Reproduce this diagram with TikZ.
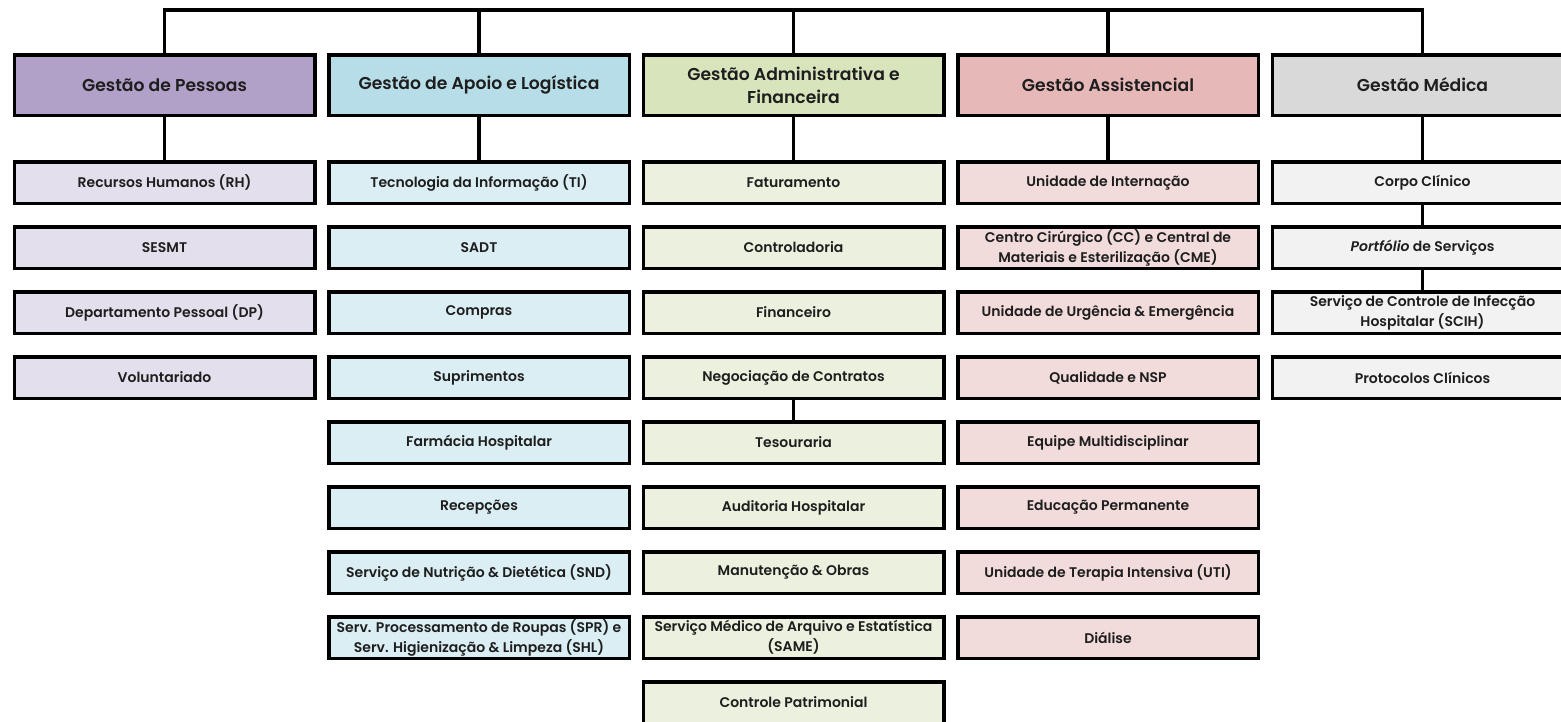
\documentclass[tikz,border=0pt]{standalone}
\usepackage{fontspec}
\setmainfont{Poppins}[BoldFont={Poppins SemiBold}, BoldItalicFont={Poppins SemiBold Italic}]
\usetikzlibrary{positioning}

% tints for the five departments (header / unit)
\definecolor{pesH}{HTML}{B1A0C7}\definecolor{pesS}{HTML}{E4DFEC}
\definecolor{apoH}{HTML}{B7DEE8}\definecolor{apoS}{HTML}{DAEEF3}
\definecolor{admH}{HTML}{D8E4BC}\definecolor{admS}{HTML}{EBF1DE}
\definecolor{assH}{HTML}{E6B8B7}\definecolor{assS}{HTML}{F2DCDB}
\definecolor{medH}{HTML}{D9D9D9}\definecolor{medS}{HTML}{F2F2F2}
\definecolor{ink}{HTML}{1E1E1E}

\tikzset{
  headbox/.style={draw=black, line width=3.5pt, minimum width=300.5pt, minimum height=60.5pt,
    inner sep=0pt, align=center, text=ink, font=\fontsize{17.2}{23}\selectfont\bfseries},
  unitbox/.style={draw=black, line width=3.5pt, minimum width=300.5pt, minimum height=41.5pt,
    inner sep=0pt, align=center, text=ink, font=\fontsize{14}{20}\selectfont\bfseries},
  link/.style={draw=black, line width=3.5pt},
}

\begin{document}
\begin{tikzpicture}[x=1pt, y=-1pt]
\useasboundingbox (0,0) rectangle (1561,721);
\clip (0,0) rectangle (1561,721);

% column centres
\def\ca{164.5}\def\cb{479}\def\cc{793.5}\def\cd{1108}\def\ce{1422.5}

% department headers
\node[headbox, fill=pesH] (hA) at (\ca,85) {Gestão de Pessoas};
\node[headbox, fill=apoH] (hB) at (\cb,85) {Gestão de Apoio e Logística};
\node[headbox, fill=admH] (hC) at (\cc,85) {Gestão Administrativa e\\Financeira};
\node[headbox, fill=assH] (hD) at (\cd,85) {Gestão Assistencial};
\node[headbox, fill=medH] (hE) at (\ce,85) {Gestão Médica};

% Gestão de Pessoas
\node[unitbox, fill=pesS] (a1) at (\ca,182.5) {Recursos Humanos (RH)};
\node[unitbox, fill=pesS] (a2) at (\ca,247.5) {SESMT};
\node[unitbox, fill=pesS] (a3) at (\ca,312.5) {Departamento Pessoal (DP)};
\node[unitbox, fill=pesS] (a4) at (\ca,377.5) {Voluntariado};

% Gestão de Apoio e Logística
\node[unitbox, fill=apoS] (b1) at (\cb,182.5) {Tecnologia da Informação (TI)};
\node[unitbox, fill=apoS] (b2) at (\cb,247.5) {SADT};
\node[unitbox, fill=apoS] (b3) at (\cb,312.5) {Compras};
\node[unitbox, fill=apoS] (b4) at (\cb,377.5) {Suprimentos};
\node[unitbox, fill=apoS] (b5) at (\cb,442.5) {Farmácia Hospitalar};
\node[unitbox, fill=apoS] (b6) at (\cb,507.5) {Recepções};
\node[unitbox, fill=apoS] (b7) at (\cb,572.5) {Serviço de Nutrição \& Dietética (SND)};
\node[unitbox, fill=apoS] (b8) at (\cb,637.5) {Serv. Processamento de Roupas (SPR) e\\Serv. Higienização \& Limpeza (SHL)};

% Gestão Administrativa e Financeira
\node[unitbox, fill=admS] (c1) at (\cc,182.5) {Faturamento};
\node[unitbox, fill=admS] (c2) at (\cc,247.5) {Controladoria};
\node[unitbox, fill=admS] (c3) at (\cc,312.5) {Financeiro};
\node[unitbox, fill=admS] (c4) at (\cc,377.5) {Negociação de Contratos};
\node[unitbox, fill=admS] (c5) at (\cc,442.5) {Tesouraria};
\node[unitbox, fill=admS] (c6) at (\cc,507.5) {Auditoria Hospitalar};
\node[unitbox, fill=admS] (c7) at (\cc,572.5) {Manutenção \& Obras};
\node[unitbox, fill=admS] (c8) at (\cc,637.5) {Serviço Médico de Arquivo e Estatística\\(SAME)};
\node[unitbox, fill=admS] (c9) at (\cc,702.5) {Controle Patrimonial};

% Gestão Assistencial
\node[unitbox, fill=assS] (d1) at (\cd,182.5) {Unidade de Internação};
\node[unitbox, fill=assS] (d2) at (\cd,247.5) {Centro Cirúrgico (CC) e Central de\\Materiais e Esterilização (CME)};
\node[unitbox, fill=assS] (d3) at (\cd,312.5) {Unidade de Urgência \& Emergência};
\node[unitbox, fill=assS] (d4) at (\cd,377.5) {Qualidade e NSP};
\node[unitbox, fill=assS] (d5) at (\cd,442.5) {Equipe Multidisciplinar};
\node[unitbox, fill=assS] (d6) at (\cd,507.5) {Educação Permanente};
\node[unitbox, fill=assS] (d7) at (\cd,572.5) {Unidade de Terapia Intensiva (UTI)};
\node[unitbox, fill=assS] (d8) at (\cd,637.5) {Diálise};

% Gestão Médica
\node[unitbox, fill=medS] (e1) at (\ce,182.5) {Corpo Clínico};
\node[unitbox, fill=medS] (e2) at (\ce,247.5) {\textit{Portfólio} de Serviços};
\node[unitbox, fill=medS] (e3) at (\ce,312.5) {Serviço de Controle de Infecção\\Hospitalar (SCIH)};
\node[unitbox, fill=medS] (e4) at (\ce,377.5) {Protocolos Clínicos};

% top bus joining the five departments
\coordinate (busA) at (\ca,10);
\coordinate (busE) at (\ce,10);
\draw[link] (hA.north) -- (busA) -- (busE) -- (hE.north);
\draw[link] (hB.north) -- (hB.north |- busA);
\draw[link] (hC.north) -- (hC.north |- busA);
\draw[link] (hD.north) -- (hD.north |- busA);

% header to first unit
\draw[link] (hA.south) -- (a1.north);
\draw[link] (hB.south) -- (b1.north);
\draw[link] (hC.south) -- (c1.north);
\draw[link] (hD.south) -- (d1.north);
\draw[link] (hE.south) -- (e1.north);

% unit chains
\draw[link] (c4.south) -- (c5.north);
\draw[link] (e1.south) -- (e2.north);
\draw[link] (e2.south) -- (e3.north);
\end{tikzpicture}
\end{document}
